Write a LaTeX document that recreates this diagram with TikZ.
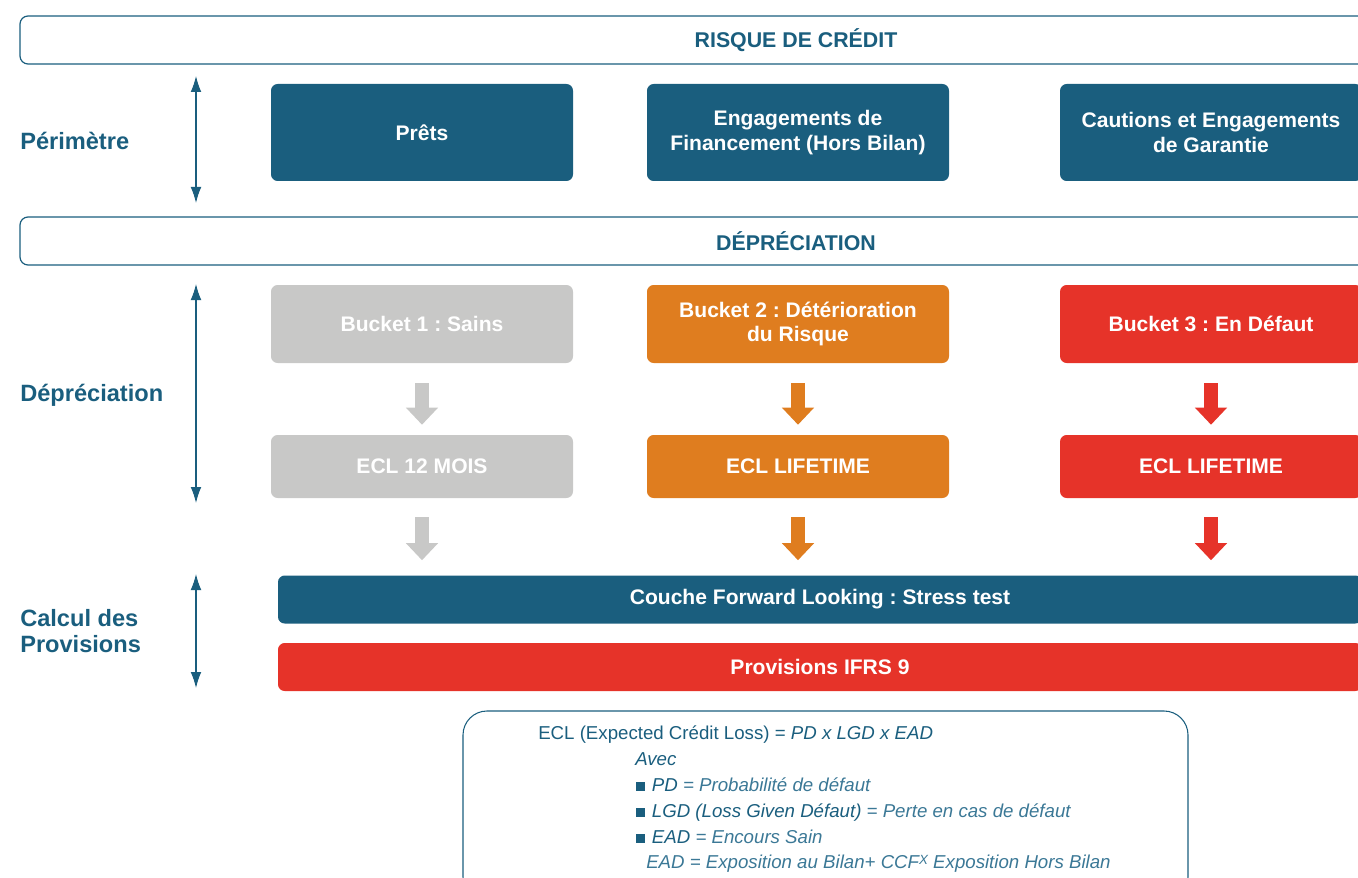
\documentclass[tikz,border=0pt]{standalone}
\usepackage{fontspec}
\setmainfont{Liberation Sans}
\usetikzlibrary{arrows.meta}
\definecolor{dblue}{HTML}{1A5E7E}
\definecolor{orng}{HTML}{DF7D1F}
\definecolor{rred}{HTML}{E63329}
\definecolor{lgray}{HTML}{C8C8C7}
\definecolor{mblue}{HTML}{3B7896}
\frenchspacing
\begin{document}
\begin{tikzpicture}[x=0.75pt,y=-0.75pt,
  band/.style={draw=dblue, line width=0.9pt, rounded corners=6pt, fill=white, text=dblue,
    font=\bfseries\fontsize{16}{19}\selectfont, inner sep=0pt, minimum width=1164pt, minimum height=36pt},
  box/.style={rounded corners=5pt, inner sep=0pt, text=white, align=center,
    font=\bfseries\fontsize{15.8}{18.5}\selectfont, minimum width=226.5pt},
  toprow/.style={box, fill=dblue, minimum height=72.75pt},
  bucketrow/.style={box, minimum height=58.5pt},
  eclrow/.style={box, minimum height=47.25pt},
  wide/.style={box, minimum width=813pt, minimum height=36pt},
  sidelabel/.style={anchor=west, align=left, text=dblue, inner sep=0pt,
    font=\bfseries\fontsize{17.7}{20}\selectfont},
  dbl/.style={draw=dblue, line width=0.8pt, {Latex[length=12pt,width=8pt]}-{Latex[length=12pt,width=8pt]}},
  blockarrow/.style={draw=#1, line width=10.5pt, -{Triangle[length=12.75pt,width=23.25pt]}},
  ftext/.style={anchor=base west, inner sep=0pt, font=\fontsize{14}{16}\selectfont}
]
\useasboundingbox (0,0) rectangle (1358,877);
\clip (0,0) rectangle (1358,877);

% bands
\node[band] (risque) at (796,40) {RISQUE DE CRÉDIT};
\node[band] (deprec) at (796,241) {DÉPRÉCIATION};

% side labels
\node[sidelabel] (lperi) at (20,141) {Périmètre};
\node[sidelabel] (ldep) at (20,395) {Dépréciation};
\node[sidelabel] (lcalc) at (20,631) {Calcul des\\Provisions};

% side double arrows
\coordinate (a1t) at (196,76);  \coordinate (a1b) at (196,203);
\coordinate (a2t) at (196,284); \coordinate (a2b) at (196,503);
\coordinate (a3t) at (196,574); \coordinate (a3b) at (196,688);
\draw[dbl] (a1t) -- (a1b);
\draw[dbl] (a2t) -- (a2b);
\draw[dbl] (a3t) -- (a3b);

% top row
\node[toprow] (prets) at (422,132.5) {Prêts};
\node[toprow] (engag) at (798,132.5) {Engagements de\\Financement (Hors Bilan)};
\node[toprow] (caut) at (1211,132.5) {Cautions et Engagements\\de Garantie};

% bucket row
\node[bucketrow, fill=lgray] (b1) at (422,324) {Bucket 1 : Sains};
\node[bucketrow, fill=orng] (b2) at (798,324) {Bucket 2 : Détérioration\\du Risque};
\node[bucketrow, fill=rred] (b3) at (1211,324) {Bucket 3 : En Défaut};

% ECL row
\node[eclrow, fill=lgray] (e1) at (422,466.5) {ECL 12 MOIS};
\node[eclrow, fill=orng] (e2) at (798,466.5) {ECL LIFETIME};
\node[eclrow, fill=rred] (e3) at (1211,466.5) {ECL LIFETIME};

% wide bars
\node[wide, fill=dblue] (fwd) at (820,599.5) {Couche Forward Looking : Stress test};
\node[wide, fill=rred] (prov) at (820,667) {Provisions IFRS 9};

% block arrows
\draw[blockarrow=lgray] ([yshift=-15pt]b1.south) -- ([yshift=7.5pt]e1.north);
\draw[blockarrow=orng] ([yshift=-15pt]b2.south) -- ([yshift=7.5pt]e2.north);
\draw[blockarrow=rred] ([yshift=-15pt]b3.south) -- ([yshift=7.5pt]e3.north);
\draw[blockarrow=lgray] ([yshift=-14.25pt]e1.south) -- ([yshift=11.25pt]e1.south |- fwd.north);
\draw[blockarrow=orng] ([yshift=-14.25pt]e2.south) -- ([yshift=11.25pt]e2.south |- fwd.north);
\draw[blockarrow=rred] ([yshift=-14.25pt]e3.south) -- ([yshift=11.25pt]e3.south |- fwd.north);

% formula box
\node[draw=dblue, line width=0.8pt, rounded corners=18pt, minimum width=543.75pt, minimum height=142.5pt, inner sep=0pt] (formula) at (825.5,806) {};

\node[ftext, text=dblue] (f1) at (538,739) {ECL (Expected Crédit Loss) = \textit{PD x LGD x EAD}};
\node[ftext, text=dblue] (f2) at (635,765) {\textit{Avec}};
\node[ftext, text=mblue] (f3) at (636,791) {\textcolor{dblue}{\rule{6.75pt}{6.75pt}}\hspace{5pt}\textit{\textcolor{dblue}{PD} = Probabilité de défaut}};
\node[ftext, text=mblue] (f4) at (636,817) {\textcolor{dblue}{\rule{6.75pt}{6.75pt}}\hspace{5pt}\textit{\textcolor{dblue}{LGD (Loss Given Défaut)} = Perte en cas de défaut}};
\node[ftext, text=mblue] (f5) at (636,843) {\textcolor{dblue}{\rule{6.75pt}{6.75pt}}\hspace{5pt}\textit{\textcolor{dblue}{EAD} = Encours Sain}};
\node[ftext, text=mblue] (f6) at (646,868) {\textit{EAD = Exposition au Bilan+ CCF\raisebox{2.5pt}{\fontsize{10}{10}\selectfont X} Exposition Hors Bilan}};
\end{tikzpicture}
\end{document}
